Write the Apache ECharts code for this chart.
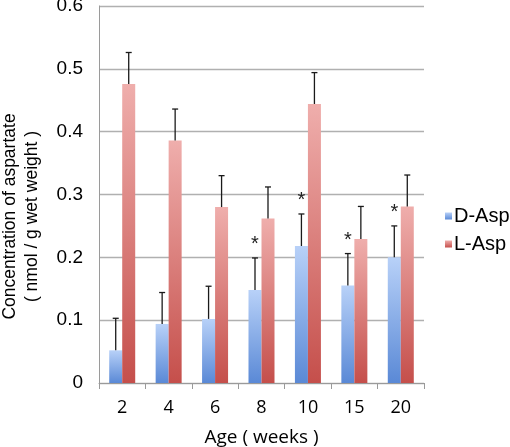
<!DOCTYPE html>
<html><head><meta charset="utf-8">
<script src="https://cdn.jsdelivr.net/npm/echarts@6/dist/echarts.min.js"></script>
<style>html,body{margin:0;padding:0;background:#fff}#c{width:510px;height:447px}</style>
</head><body><div id="c"></div>
<script>
const categories = ['2','4','6','8','10','15','20'];
const dAsp = [0.052, 0.094, 0.102, 0.148, 0.218, 0.155, 0.200];
const lAsp = [0.476, 0.386, 0.280, 0.262, 0.444, 0.229, 0.281];
const dErr = [0.051, 0.050, 0.052, 0.051, 0.051, 0.051, 0.050];
const lErr = [0.050, 0.050, 0.050, 0.050, 0.050, 0.052, 0.050];
const dSig = [false, false, false, true, true, true, true];
const yTicks = [0, 0.1, 0.2, 0.3, 0.4, 0.5, 0.6];

const BW = 13;
const chart = echarts.init(document.getElementById('c'));
const blue = new echarts.graphic.LinearGradient(0,0,0,1,[{offset:0,color:'#b8d1f8'},{offset:1,color:'#5a89d6'}]);
const red = new echarts.graphic.LinearGradient(0,0,0,1,[{offset:0,color:'#efaeac'},{offset:1,color:'#c54f4b'}]);

function errSeries(vals, errs, off, sig) {
  return {
    type: 'custom',
    silent: true,
    z: 5,
    data: vals.map((v,i)=>[i, v, v+errs[i]]),
    renderItem: function(params, api) {
      const i = api.value(0);
      const p0 = api.coord([i, api.value(1)]);
      const p1 = api.coord([i, api.value(2)]);
      const x = p0[0] + off;
      const children = [
        {type:'line', shape:{x1:x,y1:p0[1],x2:x,y2:p1[1]}, style:{stroke:'#1a1a1a',lineWidth:1.3}},
        {type:'line', shape:{x1:x-3,y1:p1[1],x2:x+3,y2:p1[1]}, style:{stroke:'#1a1a1a',lineWidth:1.3}}
      ];
      if (sig && sig[i]) {
        children.push({type:'text', style:{text:'*', x:x, y:p1[1]-3, align:'center', verticalAlign:'bottom', font:'20px "Liberation Sans"', fill:'#222'}});
      }
      return {type:'group', children};
    }
  };
}

chart.setOption({
  animation:false,
  grid:{left:99, right:86, top:6, bottom:64, containLabel:false, outerBoundsMode:'none'},
  legend:{
    orient:'vertical', left:440, top:201, itemWidth:7, itemHeight:7, itemGap:8,
    icon:'rect',
    textStyle:{fontFamily:'Liberation Sans', fontSize:20, color:'#000', padding:[0,0,0,-3]},
    data:['D-Asp','L-Asp']
  },
  xAxis:{
    type:'category', data:categories,
    name:'Age ( weeks )', nameLocation:'middle', nameGap:45,
    nameTextStyle:{fontFamily:'Open Sans', fontSize:19, color:'#000'},
    axisLine:{lineStyle:{color:'#9a9a9a'}},
    axisTick:{show:true, length:6, lineStyle:{color:'#9a9a9a'}},
    axisLabel:{fontFamily:'Open Sans', fontSize:18, color:'#000', margin:16}
  },
  yAxis:{
    type:'value', min:0, max:0.6, interval:0.1,
    name:'Concentration of aspartate\n( nmol / g wet weight )', nameLocation:'middle', nameGap:56,
    nameTextStyle:{fontFamily:'Liberation Sans', fontSize:17.5, color:'#000', lineHeight:22, padding:[0,0,0,-44]},
    axisLine:{show:true, lineStyle:{color:'#9a9a9a'}},
    axisTick:{show:false},
    splitLine:{lineStyle:{color:'#b0b0b0', width:1.3}},
    axisLabel:{fontFamily:'Liberation Sans', fontSize:19, color:'#000', margin:16,
      formatter:function(v){ const t = yTicks.find(x=>Math.abs(x-v)<1e-9); return t===undefined?'':String(t);} }
  },
  series:[
    {name:'D-Asp', type:'bar', data:dAsp, barWidth:BW, barGap:'0%', itemStyle:{color:blue}},
    {name:'L-Asp', type:'bar', data:lAsp, barWidth:BW, barGap:'0%', itemStyle:{color:red}},
    errSeries(dAsp, dErr, -BW/2, dSig),
    errSeries(lAsp, lErr, BW/2, null)
  ]
});
</script></body></html>
